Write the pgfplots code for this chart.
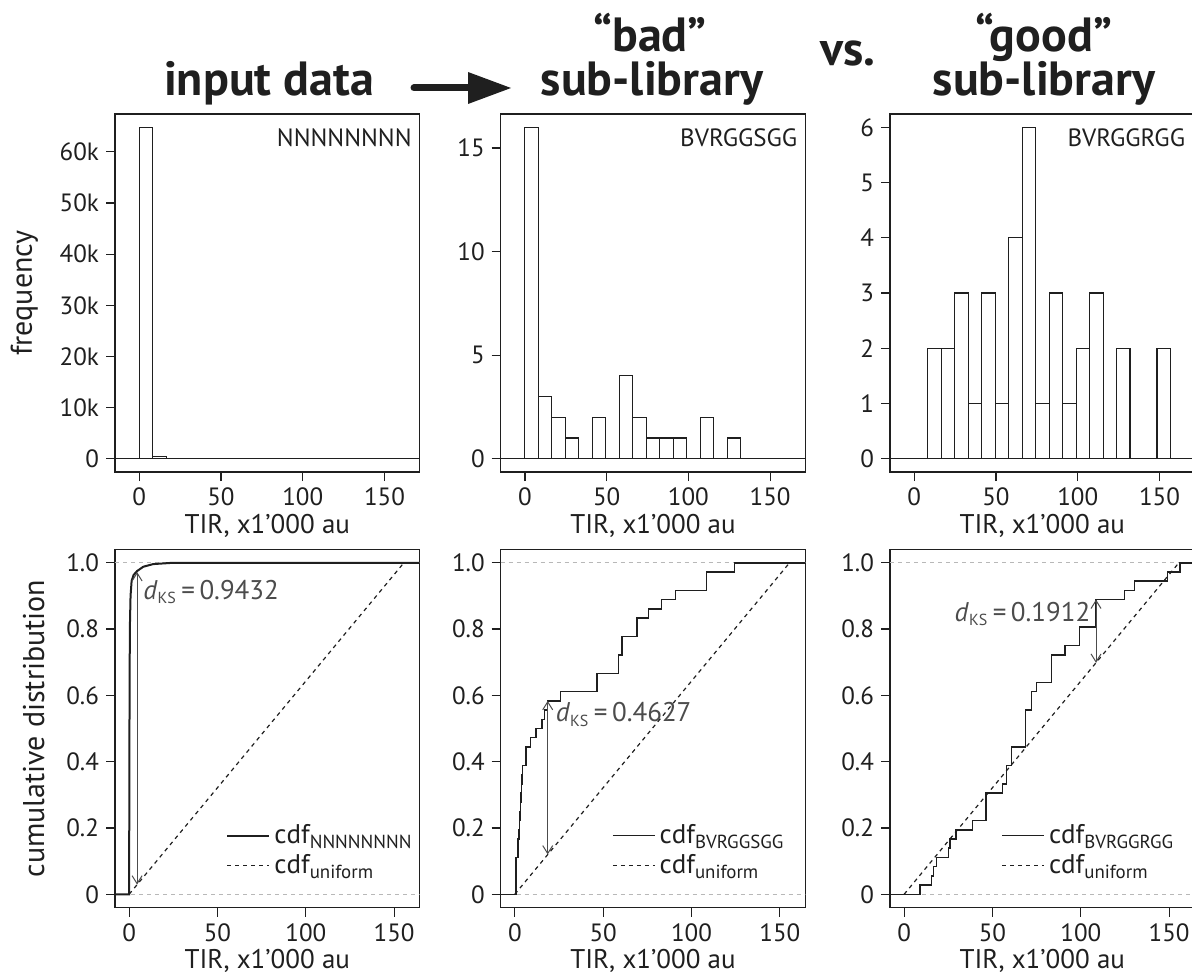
\documentclass[border=0pt]{standalone}
\usepackage{pgfplots}
\pgfplotsset{compat=1.18}
\usepackage{fontspec}
\setmainfont{PT Sans}
\usetikzlibrary{arrows.meta}
\definecolor{fg}{gray}{0.12}
\definecolor{ann}{gray}{0.3}
\definecolor{lgray}{gray}{0.72}

\tikzset{
  ks/.style={ann, line width=0.5pt, {Straight Barb[length=4pt,width=5pt]}-{Straight Barb[length=4pt,width=5pt]}},
  kslabel/.style={anchor=base west, inner sep=0pt, text=ann, font=\fontsize{13.5}{16}\selectfont},
  gline/.style={lgray, line width=0.5pt, dash pattern=on 2pt off 2pt},
}
\pgfplotsset{
  panel/.style={
    scale only axis, width=152.3pt, height=179pt,
    anchor=south west,
    axis line style={fg, line width=0.6pt},
    tick pos=left, tick align=outside, major tick length=4.5pt,
    tick style={fg, line width=0.6pt},
    /pgf/number format/assume math mode=true,
    tick label style={font=\fontsize{12.5}{14}\selectfont, text=fg},
    xlabel style={font=\fontsize{13.5}{16}\selectfont, text=fg, yshift=3pt},
    ylabel style={font=\fontsize{15}{17}\selectfont, text=fg},
    ylabel shift=4pt,
    xtick={0,50,100,150},
    xlabel={TIR, x1’000 au},
  },
  hist/.style={panel, xmin=-14.8, xmax=171.5},
  cdf/.style={panel, xmin=-8, xmax=164.4, ymin=-0.04, ymax=1.04,
    ytick={0,0.2,0.4,0.6,0.8,1}, yticklabels={0,0.2,0.4,0.6,0.8,1.0},
    legend style={draw=none, fill=none, at={(rel axis cs:0.345,0.255)}, anchor=north west,
      font=\fontsize{13.5}{16}\selectfont, text=fg, row sep=0pt},
    legend cell align=left,
    legend image code/.code={\draw[##1] (0pt,0pt) -- (21pt,0pt);},
  },
  bars/.style={ybar interval, draw=fg, fill=white, line width=0.55pt},
  ecdf/.style={const plot, fg, line width=0.75pt},
  unif/.style={fg, line width=0.6pt, dash pattern=on 2pt off 2pt},
}

\pgfplotstableread{
x y
0 64800
8.25 450
16.5 120
24.75 60
33 35
41.25 22
49.5 15
57.75 10
66 8
74.25 6
82.5 5
90.75 4
99 3
107.25 3
115.5 2
123.75 2
132 1
140.25 1
148.5 1
156.75 0
}\histN

\pgfplotstableread{
x y
0 16
8.25 3
16.5 2
24.75 1
33 0
41.25 2
49.5 0
57.75 4
66 2
74.25 1
82.5 1
90.75 1
99 0
107.25 2
115.5 0
123.75 1
132 0
140.25 0
148.5 0
156.75 0
}\histS

\pgfplotstableread{
x y
0 0
8.25 2
16.5 2
24.75 3
33 1
41.25 3
49.5 1
57.75 4
66 6
74.25 1
82.5 3
90.75 1
99 2
107.25 3
115.5 0
123.75 2
132 0
140.25 0
148.5 2
156.75 0
}\histR

\pgfplotstableread{
x y
-8 0
0 0
0.15 0.45
0.4 0.8
0.8 0.9
1.4 0.945
2.5 0.963
4.5 0.975
8 0.988
13.6 0.996
25 1
164.4 1
}\cdfN

\pgfplotstableread{
x y
-8 0
0.75 0.1111
1.9 0.1667
2.3 0.1944
2.7 0.2222
3.0 0.25
3.3 0.2778
3.6 0.3056
3.8 0.3333
4.0 0.3611
4.2 0.3889
6.2 0.4444
8.8 0.4722
12.1 0.5
15.5 0.5278
16.8 0.5556
18.6 0.5833
25.8 0.6111
46.5 0.6667
58.7 0.7222
60.6 0.7778
69.0 0.8333
75.6 0.8611
83.1 0.8889
91.0 0.9167
108.5 0.9722
124.4 1.0
164.4 1.0
}\cdfS

\pgfplotstableread{
x y
-8 0
9.0 0.0278
15.6 0.0556
16.6 0.0833
18.4 0.1111
25.0 0.1389
26.0 0.1667
29.3 0.1944
38.7 0.2222
46.2 0.3056
55.6 0.3333
57.9 0.3889
60.7 0.4444
68.8 0.5556
72.0 0.6111
74.8 0.6389
83.3 0.7222
91.0 0.75
99.2 0.8056
108.6 0.8889
124.6 0.9167
130.3 0.9444
149.0 0.9722
156.0 1.0
164.4 1.0
}\cdfR

\pgfplotstableread{
x y
0 0
155.5 1
}\unif

\begin{document}
\begin{tikzpicture}
\useasboundingbox (0,0) rectangle (596pt,-489pt);

% titles
\begin{scope}[font=\fontsize{24}{26}\selectfont\bfseries, text=fg]
\node[anchor=base, inner sep=0pt] at (134.5pt,-48pt) {input data};
\node[anchor=base, inner sep=0pt] at (325pt,-26pt) {“bad”};
\node[anchor=base, inner sep=0pt] at (326pt,-48pt) {sub-library};
\node[anchor=base, inner sep=0pt] at (424pt,-33pt) {vs.};
\node[anchor=base, inner sep=0pt] at (522pt,-26pt) {“good”};
\node[anchor=base, inner sep=0pt] at (522pt,-48pt) {sub-library};
\end{scope}
\draw[fg, line width=3.5pt, line cap=round] (207pt,-44pt) -- (237pt,-44pt);
\fill[fg] (234pt,-36pt) -- (255.5pt,-44pt) -- (234pt,-52pt) -- cycle;

% ---------- top row ----------
\begin{axis}[hist, at={(57.5pt,-236pt)}, ymin=-2592, ymax=67392,
  ytick={0,10000,20000,30000,40000,50000,60000},
  yticklabels={0,10k,20k,30k,40k,50k,60k}, scaled y ticks=false,
  ylabel={frequency}]
\draw[fg, line width=0.6pt] (axis cs:-14.8,0) -- (axis cs:171.5,0);
\addplot[bars] table {\histN};
\node[anchor=east, inner sep=0pt, text=fg, font=\fontsize{12.5}{14}\selectfont] at (rel axis cs:0.975,0.935) {NNNNNNNN};
\end{axis}

\begin{axis}[hist, at={(250.35pt,-236pt)}, ymin=-0.64, ymax=16.64,
  ytick={0,5,10,15}]
\draw[fg, line width=0.6pt] (axis cs:-14.8,0) -- (axis cs:171.5,0);
\addplot[bars] table {\histS};
\node[anchor=east, inner sep=0pt, text=fg, font=\fontsize{12.5}{14}\selectfont] at (rel axis cs:0.975,0.935) {BVRGGSGG};
\end{axis}

\begin{axis}[hist, at={(445pt,-236pt)}, ymin=-0.24, ymax=6.24,
  ytick={0,1,2,3,4,5,6}]
\draw[fg, line width=0.6pt] (axis cs:-14.8,0) -- (axis cs:171.5,0);
\addplot[bars] table {\histR};
\node[anchor=east, inner sep=0pt, text=fg, font=\fontsize{12.5}{14}\selectfont] at (rel axis cs:0.97,0.935) {BVRGGRGG};
\end{axis}

% ---------- bottom row ----------
\begin{axis}[cdf, at={(57.5pt,-453.75pt)}, ylabel={cumulative distribution}]
\draw[gline] (axis cs:-8,0) -- (axis cs:164.4,0);
\draw[gline] (axis cs:-8,1) -- (axis cs:164.4,1);
\addplot[fg, line width=1pt] table {\cdfN};
\addlegendentry{cdf\textsubscript{NNNNNNNN}}
\addplot[unif] table {\unif};
\addlegendentry{cdf\textsubscript{uniform}}
\draw[ks] (axis cs:4.5,0.972) -- (axis cs:4.5,0.029);
\node[kslabel] at (axis cs:7.8,0.89) {\textit{d}\textsubscript{\fontsize{8}{8}\selectfont KS}\,=\,0.9432};
\end{axis}

\begin{axis}[cdf, at={(250.35pt,-453.75pt)}]
\draw[gline] (axis cs:-8,0) -- (axis cs:164.4,0);
\draw[gline] (axis cs:-8,1) -- (axis cs:164.4,1);
\addplot[ecdf] table {\cdfS};
\addlegendentry{cdf\textsubscript{BVRGGSGG}}
\addplot[unif] table {\unif};
\addlegendentry{cdf\textsubscript{uniform}}
\draw[ks] (axis cs:18.6,0.5833) -- (axis cs:18.6,0.12);
\node[kslabel] at (axis cs:23,0.52) {\textit{d}\textsubscript{\fontsize{8}{8}\selectfont KS}\,=\,0.4627};
\end{axis}

\begin{axis}[cdf, at={(445pt,-453.75pt)}]
\draw[gline] (axis cs:-8,0) -- (axis cs:164.4,0);
\draw[gline] (axis cs:-8,1) -- (axis cs:164.4,1);
\addplot[ecdf] table {\cdfR};
\addlegendentry{cdf\textsubscript{BVRGGRGG}}
\addplot[unif] table {\unif};
\addlegendentry{cdf\textsubscript{uniform}}
\draw[ks] (axis cs:108.6,0.8889) -- (axis cs:108.6,0.698);
\node[kslabel] at (axis cs:28.4,0.824) {\textit{d}\textsubscript{\fontsize{8}{8}\selectfont KS}\,=\,0.1912};
\end{axis}
\end{tikzpicture}
\end{document}
